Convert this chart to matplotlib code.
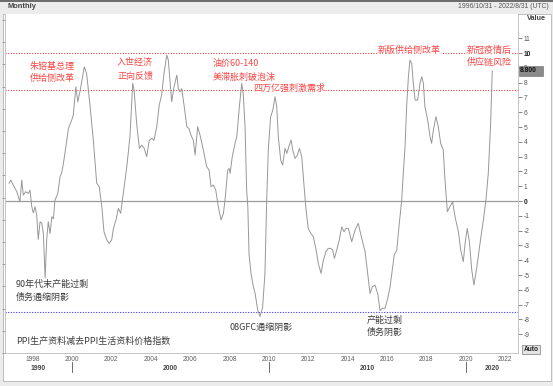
import matplotlib
matplotlib.use("Agg")
import matplotlib.pyplot as plt
from matplotlib.patches import Rectangle

plt.rcParams['font.family'] = ['Noto Sans CJK SC', 'DejaVu Sans']

W, H = 553, 386

# monthly spread (decimal year, value)
years = [1996.80, 1996.88, 1997.01, 1997.19, 1997.35, 1997.44, 1997.52, 1997.64, 1997.78, 1997.86,
         1997.95, 1998.03, 1998.12, 1998.20, 1998.28, 1998.37, 1998.46, 1998.54, 1998.63, 1998.71,
         1998.79, 1998.88, 1998.97, 1999.05, 1999.13, 1999.27, 1999.39, 1999.47, 1999.56, 1999.73,
         1999.81, 1999.98, 2000.06, 2000.19, 2000.29, 2000.40, 2000.62, 2000.74, 2000.91,
         2001.08, 2001.25, 2001.38, 2001.51, 2001.62, 2001.76, 2001.89, 2002.01, 2002.10, 2002.23,
         2002.35, 2002.47, 2002.60, 2002.78, 2002.94, 2003.08, 2003.15, 2003.28, 2003.42, 2003.54,
         2003.66, 2003.79, 2003.92, 2004.05, 2004.16, 2004.30, 2004.43, 2004.55, 2004.67, 2004.81,
         2004.89, 2005.06, 2005.18, 2005.32, 2005.40, 2005.49,
         2005.57, 2005.70, 2005.83, 2005.94, 2006.04, 2006.16, 2006.25, 2006.38, 2006.50, 2006.67,
         2006.84, 2006.96, 2007.06, 2007.18, 2007.30, 2007.43, 2007.57, 2007.69, 2007.77, 2007.91,
         2007.98, 2008.03, 2008.14, 2008.28, 2008.37, 2008.50, 2008.62, 2008.70, 2008.79, 2008.87,
         2008.93, 2008.99, 2009.09, 2009.21, 2009.30, 2009.43, 2009.55, 2009.68,
         2009.80, 2009.89, 2009.97, 2010.09, 2010.20, 2010.31, 2010.40, 2010.48, 2010.60, 2010.70,
         2010.82, 2010.91, 2011.04, 2011.13, 2011.21, 2011.33, 2011.45, 2011.55, 2011.67, 2011.79,
         2011.89, 2012.00, 2012.13, 2012.26, 2012.40, 2012.51, 2012.65, 2012.77, 2012.90, 2013.02,
         2013.14, 2013.24, 2013.33, 2013.45, 2013.58, 2013.70, 2013.82, 2013.92, 2014.04,
         2014.21, 2014.38, 2014.54, 2014.72, 2014.89, 2015.02, 2015.14, 2015.26, 2015.39, 2015.53,
         2015.65, 2015.76, 2015.90, 2016.04, 2016.16, 2016.27, 2016.37, 2016.50, 2016.61, 2016.75,
         2016.83, 2016.92, 2017.00, 2017.09, 2017.17, 2017.26, 2017.34, 2017.43, 2017.56, 2017.68,
         2017.77, 2017.85, 2017.93, 2018.07, 2018.19, 2018.27,
         2018.36, 2018.49, 2018.61, 2018.73, 2018.86, 2018.95, 2019.07, 2019.20, 2019.34, 2019.46,
         2019.63, 2019.75, 2019.88, 2019.97, 2020.08, 2020.19, 2020.31, 2020.42, 2020.56, 2020.73,
         2020.90, 2021.03, 2021.15, 2021.27, 2021.35]
spread = [1.2, 1.42, 1.08, 0.63, -0.05, 1.42, 0.4, 0.63, 0.52, 0.74,
          -0.38, -0.8, -0.38, -0.95, -2.6, -1.4, -1.5, -2.2, -5.2, -2.6,
          -1.4, -2.2, -1.06, -1.2, 0.07, 0.5, 1.64, 1.9, 2.56, 4.1,
          4.9, 5.47, 5.8, 7.72, 6.7, 7.4, 9.07, 8.6, 6.45,
          4.1, 1.2, 0.97, -0.38, -2.07, -2.63, -2.86, -2.63, -1.85, -1.28,
          -0.5, -0.83, 0.52, 2.32, 4.35, 7.95, 7.5, 5.25, 3.56, 3.78,
          3.56, 3.0, 4.1, 4.24, 4.1, 5.02, 6.5, 7.16, 8.63, 9.86,
          9.53, 6.71, 7.72, 8.51, 7.6, 7.38,
          7.6, 6.37, 5.02, 4.9, 4.46, 4.1, 3.1, 5.02, 4.46, 3.45,
          2.32, 2.1, 0.97, 1.08, 0.74, -0.38, -1.28, -0.83, 0.07, 2.1,
          2.2, 1.87, 3.0, 3.9, 4.35, 6.37, 7.95, 7.16, 5.02, 0.74,
          -0.38, -3.54, -4.89, -5.79, -6.24, -7.36, -7.8, -7.2,
          -4.89, 0.07, 3.45, 5.7, 6.15, 7.05, 6.37, 4.35, 2.77, 2.43,
          3.56, 3.22, 3.78, 4.12, 3.45, 2.88, 3.1, 3.56, 3.0, 0.97,
          -0.61, -1.85, -2.18, -2.41, -3.31, -4.21, -4.89, -3.99, -3.42, -3.2,
          -3.2, -3.31, -3.87, -3.31, -2.63, -1.74, -2.07, -1.85, -1.85,
          -2.75, -1.96, -1.51, -2.52, -3.42, -4.89, -6.24, -5.79, -5.68, -6.24,
          -7.41, -7.25, -7.25, -6.58, -5.79, -4.66, -3.65, -3.31, -1.74, 0.07,
          1.87, 3.67, 6.37, 8.4, 9.53, 9.3, 7.95, 6.82, 6.82, 7.95,
          8.4, 7.95, 6.37, 5.47, 4.35, 3.9,
          4.8, 5.7, 5.02, 3.9, 3.45, 1.42, -0.72, -0.38, -0.05, -1.06,
          -2.07, -3.31, -4.1, -2.86, -1.85, -2.75, -4.66, -5.68, -4.55, -2.86,
          -1.28, 0.07, 1.87, 5.25, 8.8]

last_label = "8.800"
red_levels = [10, 7.5]
blue_level = -7.5
right_ticks = list(range(-9, 12))
year_ticks = list(range(1998, 2023, 2))
decade_names = ["1990", "2000", "2010", "2020"]
decade_bounds = [1996.59, 2000, 2010, 2020, 2022.66]

red = '#f54545'
dark = '#3c3c3c'


def fx(x):
    return x / W


def fy(y):
    return 1 - y / H


fig = plt.figure(figsize=(W / 100, H / 100), dpi=100, facecolor='#ececec')

# white chart panel and dark top border (drawn beneath the axes)
fig.patches.append(Rectangle((fx(3), fy(381)), 548 / W, 367 / H, transform=fig.transFigure,
                             facecolor='white', edgecolor='#b4b4b4', lw=0.6, zorder=-10))
fig.patches.append(Rectangle((0, fy(1.5)), 1, 1.5 / H, transform=fig.transFigure,
                             facecolor='#6e6e6e', edgecolor='none', zorder=-10))

ax = fig.add_axes([fx(5), fy(353), 513 / W, 339 / H])
ax.set_facecolor('white')
ax.plot(years, spread, color='#979797', lw=0.7, zorder=3)
ax.axhline(0, color='#9c9c9c', lw=0.9, zorder=2)
for lv in red_levels:
    ax.axhline(lv, color=red, ls=(0, (1, 1.4)), lw=0.8, zorder=2)
ax.axhline(blue_level, color='#3a3aff', ls=(0, (1, 1.4)), lw=0.8, zorder=2)

ax.set_xlim(decade_bounds[0], decade_bounds[-1])
ax.set_ylim(-10.27, 12.64)

for s in ['left', 'right', 'bottom']:
    ax.spines[s].set_color('#c4c4c4')
    ax.spines[s].set_linewidth(0.7)
ax.spines['top'].set_visible(False)

ax.yaxis.tick_right()
ax.set_yticks(right_ticks)
ax.set_yticklabels([str(t) for t in right_ticks], family='Liberation Sans')
ax.tick_params(axis='y', direction='out', length=3, width=0.5, pad=1,
               labelsize=4.8, colors='#555555')
for lab in ax.get_yticklabels():
    if lab.get_text() in ('10', '0'):
        lab.set_fontweight('bold')
        lab.set_color('#222222')

ax.set_xticks(year_ticks)
ax.set_xticklabels([str(t) for t in year_ticks], family='Liberation Sans')
ax.tick_params(axis='x', length=0, pad=2.2, labelsize=4.8, colors='#606060')

# decade row under the year labels
tr = ax.get_xaxis_transform()
for i, name in enumerate(decade_names):
    mid = (decade_bounds[i] + decade_bounds[i + 1]) / 2
    ax.text(mid, -0.047, name, transform=tr, ha='center', va='center', fontsize=4.9,
            fontweight='bold', color='#444444', family='Liberation Sans')
for b in decade_bounds[1:-1]:
    ax.plot([b, b], [-0.027, -0.056], transform=tr, color='#555555', lw=0.6, clip_on=False)

# unlabelled ticks on the left edge
axl = fig.add_axes([fx(5), fy(353), 513 / W, 339 / H], frameon=False)
axl.set_ylim(0, 339 / 22.2)
axl.set_yticks(range(0, 16))
axl.set_yticklabels([])
axl.set_xticks([])
axl.tick_params(axis='y', direction='out', length=2.5, width=0.5, colors='#888888')
axl.patch.set_visible(False)

# header texts
fig.text(fx(7), fy(7), "Monthly", fontsize=5.4, fontweight='bold', color='#444444',
         family='Liberation Sans', va='center')
fig.text(fx(549), fy(7), "1996/10/31 - 2022/8/31 (UTC)", fontsize=4.9, color='#555555',
         family='Liberation Sans', va='center', ha='right')
fig.text(fx(527), fy(18), "Value", fontsize=5.2, fontweight='bold', color='#444444',
         family='Liberation Sans', va='center')

# last value box (partly covers the "9" label, as in the source) and Auto box
fig.patches.append(Rectangle((fx(519), fy(76)), 24 / W, 10 / H, transform=fig.transFigure,
                             facecolor='#8a8a8a', edgecolor='#6a6a6a', lw=0.4, zorder=5))
fig.text(fx(520), fy(71), last_label, fontsize=4.8, fontweight='bold', color='#111111',
         family='Liberation Sans', va='center', zorder=6)
fig.patches.append(Rectangle((fx(522), fy(354)), 18 / W, 9 / H, transform=fig.transFigure,
                             facecolor='#e4e4e4', edgecolor='#7a7a7a', lw=0.5, zorder=5))
fig.text(fx(531), fy(349.5), "Auto", fontsize=4.8, fontweight='bold', color='#222222',
         family='Liberation Sans', va='center', ha='center', zorder=6)

# annotations
fs = 6.5
fig.text(fx(30), fy(67), "朱镕基总理", color=red, fontsize=fs, va='center')
fig.text(fx(30), fy(78), "供给侧改革", color=red, fontsize=fs, va='center')
fig.text(fx(117), fy(62), "入世经济", color=red, fontsize=fs, va='center')
fig.text(fx(117), fy(76), "正向反馈", color=red, fontsize=fs, va='center')
fig.text(fx(213), fy(63), "油价60-140", color=red, fontsize=fs, va='center')
fig.text(fx(213), fy(77), "美滞胀刺破泡沫", color=red, fontsize=fs, va='center')
fig.text(fx(253), fy(88), "四万亿强刺激需求", color=red, fontsize=fs, va='center',
         bbox=dict(facecolor='white', edgecolor='none', pad=0.3))
fig.text(fx(378), fy(50), "新版供给侧改革", color=red, fontsize=fs, va='center',
         bbox=dict(facecolor='white', edgecolor='none', pad=0.3))
fig.text(fx(467), fy(50), "新冠疫情后", color=red, fontsize=fs, va='center',
         bbox=dict(facecolor='white', edgecolor='none', pad=0.3))
fig.text(fx(467), fy(62), "供应链风险", color=red, fontsize=fs, va='center')

fig.text(fx(16), fy(284), "90年代末产能过剩", color=dark, fontsize=fs, va='center')
fig.text(fx(16), fy(297), "债务通缩阴影", color=dark, fontsize=fs, va='center')
fig.text(fx(229), fy(327), "08GFC通缩阴影", color=dark, fontsize=fs, va='center')
fig.text(fx(367), fy(320), "产能过剩", color=dark, fontsize=fs, va='center')
fig.text(fx(367), fy(332), "债务阴影", color=dark, fontsize=fs, va='center')
fig.text(fx(16), fy(341), "PPI生产资料减去PPI生活资料价格指数", color=dark, fontsize=fs,
         va='center')

fig.savefig("out.png", dpi=100, facecolor=fig.get_facecolor())
